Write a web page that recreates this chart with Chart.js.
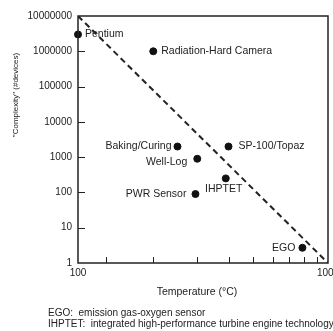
<!DOCTYPE html>
<html>
<head>
<meta charset="utf-8">
<script src="https://cdn.jsdelivr.net/npm/chart.js@4.4.1/dist/chart.umd.min.js"></script>
<style>
  html, body { margin: 0; padding: 0; background: #fff; }
  #wrap { width: 333px; height: 331px; }
</style>
</head>
<body>
<div id="wrap"><canvas id="c" width="333" height="331"></canvas></div>
<script>
// data
var names = ['Pentium', 'Radiation-Hard Camera', 'Baking/Curing', 'Well-Log', 'SP-100/Topaz', 'IHPTET', 'PWR Sensor', 'EGO']
var temps = [100, 200, 250, 300, 400, 390, 295, 790]
var devices = [3000000, 1000000, 2000, 900, 2000, 250, 90, 2.7]
var trendT = [100, 1000]
var trendN = [10000000, 1]
var yTicks = [1, 10, 100, 1000, 10000, 100000, 1000000, 10000000]
var xTicks = [100, 130, 200, 300, 400, 500, 600, 700, 800, 900, 1000]
var xLabelled = [100, 1000]
var notes = ['EGO:  emission gas-oxygen sensor', 'IHPTET:  integrated high-performance turbine engine technology']

// where each label sits relative to its dot (dx, dy, align)
var place = {
  'Pentium': [7, 0, 'left'],
  'Radiation-Hard Camera': [8, 0, 'left'],
  'Baking/Curing': [-6, 0, 'right'],
  'Well-Log': [-10, 3, 'right'],
  'SP-100/Topaz': [10, 0, 'left'],
  'IHPTET': [-2, 11, 'center'],
  'PWR Sensor': [-9, 0, 'right'],
  'EGO': [-7, 0, 'right']
}

var FONT = '"Liberation Sans", Arial, sans-serif'
var pts = []
for (var i = 0; i < names.length; i++) pts.push({ x: temps[i], y: devices[i] })
var trend = []
for (var j = 0; j < trendT.length; j++) trend.push({ x: trendT[j], y: trendN[j] })

var decor = {
  id: 'decor',
  afterDatasetsDraw: function (chart) {
    var ctx = chart.ctx, a = chart.chartArea
    var xs = chart.scales.x, ys = chart.scales.y
    ctx.save()
    ctx.strokeStyle = '#222'
    ctx.lineWidth = 1.5
    ctx.strokeRect(a.left, a.top, a.right - a.left, a.bottom - a.top)
    ctx.lineWidth = 1
    // inward tick marks
    xTicks.forEach(function (v) {
      if (v === 100 || v === 1000) return
      var px = Math.round(xs.getPixelForValue(v)) + 0.5
      ctx.beginPath(); ctx.moveTo(px, a.bottom); ctx.lineTo(px, a.bottom - 6); ctx.stroke()
    })
    yTicks.forEach(function (v) {
      if (v === 1 || v === 10000000) return
      var py = Math.round(ys.getPixelForValue(v)) + 0.5
      ctx.beginPath(); ctx.moveTo(a.left, py); ctx.lineTo(a.left + 7, py); ctx.stroke()
    })
    // point labels
    ctx.fillStyle = '#222'
    ctx.font = '10.5px ' + FONT
    ctx.textBaseline = 'middle'
    names.forEach(function (n, k) {
      var p = place[n]
      ctx.textAlign = p[2]
      ctx.fillText(n, xs.getPixelForValue(temps[k]) + p[0], ys.getPixelForValue(devices[k]) + p[1])
    })
    // axis titles and footnotes
    ctx.textAlign = 'center'
    ctx.font = '10.5px ' + FONT
    ctx.fillText('Temperature (°C)', 197, 292)
    ctx.save()
    ctx.translate(16, 95)
    ctx.rotate(-Math.PI / 2)
    ctx.font = '8px ' + FONT
    ctx.fillText('"Complexity" (#devices)', 0, 0)
    ctx.restore()
    ctx.textAlign = 'left'
    ctx.font = '10px ' + FONT
    notes.forEach(function (t, k) { ctx.fillText(t, 48, 313 + k * 11) })
    ctx.restore()
  }
}

new Chart(document.getElementById('c'), {
  type: 'scatter',
  data: {
    datasets: [
      { data: pts, backgroundColor: '#111', borderColor: '#111', pointRadius: 3.5, clip: false },
      { type: 'line', data: trend, borderColor: '#222', borderWidth: 2, borderDash: [6, 4], pointRadius: 0, fill: false }
    ]
  },
  options: {
    responsive: false,
    animation: false,
    events: [],
    layout: { padding: { left: 0, top: 16, right: 5, bottom: 0 } },
    plugins: { legend: { display: false }, tooltip: { enabled: false } },
    scales: {
      x: {
        type: 'logarithmic', min: 100, max: 1000,
        afterBuildTicks: function (s) { s.ticks = xTicks.map(function (v) { return { value: v } }) },
        afterFit: function (s) { s.height = 68; s.paddingRight = 0; s.paddingLeft = 0 },
        ticks: {
          autoSkip: false, maxRotation: 0, padding: 4, color: '#222',
          font: { family: FONT, size: 10 },
          callback: function (v) { return xLabelled.indexOf(v) >= 0 ? String(v) : '' }
        },
        grid: { display: false, drawTicks: false, tickLength: 0 },
        border: { display: false }
      },
      y: {
        type: 'logarithmic', min: 1, max: 10000000,
        afterBuildTicks: function (s) { s.ticks = yTicks.map(function (v) { return { value: v } }) },
        afterFit: function (s) { s.width = 78; s.paddingTop = 0; s.paddingBottom = 0 },
        ticks: {
          autoSkip: false, padding: 6, color: '#222',
          font: { family: FONT, size: 10 },
          callback: function (v) { return String(v) }
        },
        grid: { display: false, drawTicks: false, tickLength: 0 },
        border: { display: false }
      }
    }
  },
  plugins: [decor]
})
</script>
</body>
</html>
